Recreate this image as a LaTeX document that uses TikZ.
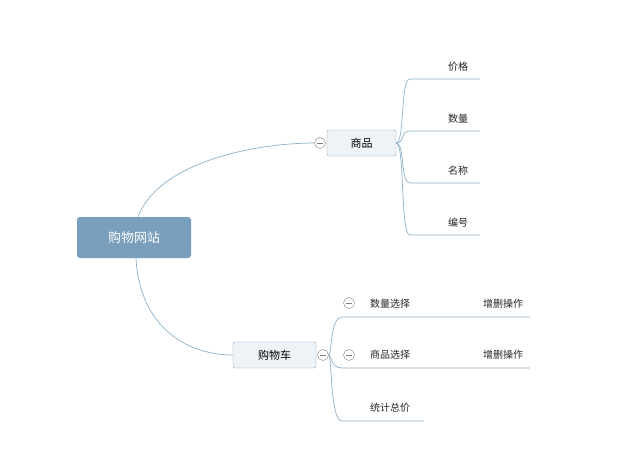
\documentclass[tikz,border=0pt]{standalone}
\usepackage{fontspec}
\newfontfamily\cjk{Noto Sans CJK SC}
\definecolor{ln}{HTML}{8FB0C8}
\definecolor{bd}{HTML}{8AA3B8}
\definecolor{rootc}{HTML}{7A9FBD}
\definecolor{boxc}{HTML}{EEF3F8}
\begin{document}
\begin{tikzpicture}[x=1pt,y=-1pt,
  conn/.style={draw=ln,line width=0.7pt},
  lbl/.style={font=\cjk\fontsize{10}{12}\selectfont,text=black!85},
  tbox/.style={draw=bd,fill=boxc,rounded corners=2pt,font=\cjk\fontsize{11}{13}\selectfont,inner sep=0pt},
  minus/.style={draw=gray,fill=white,circle,minimum size=11pt,inner sep=0pt,
    path picture={\draw[gray] ([xshift=-3pt]path picture bounding box.center)--([xshift=3pt]path picture bounding box.center);}}]
\useasboundingbox[fill=white] (0,0) rectangle (622,466);
\node[fill=rootc,rounded corners=3pt,minimum width=114pt,minimum height=41pt,text=white,font=\cjk\fontsize{13}{15}\selectfont] (root) at (134,237.5) {购物网站};
\node[tbox,minimum width=69pt,minimum height=26pt] (sp) at (361.5,143) {商品};
\node[tbox,minimum width=83pt,minimum height=26pt] (gw) at (274.5,355) {购物车};
\node[minus] (m1) at (320,143) {};
\node[minus] (m2) at (323,355) {};
\draw[conn] (root.north)+(4,0) coordinate (r1) (r1) .. controls (160,160) and (260,143) .. (m1.west);
\draw[conn] (root.south)+(2,0) coordinate (r2) (r2) .. controls (140,330) and (190,355) .. (gw.west);
\foreach \n/\y/\t in {a/79/价格,b/131/数量,c/183/名称,d/235/编号}{
  \coordinate (s\n) at (410,\y); \coordinate (e\n) at (480,\y);
  \draw[conn] (sp.east) .. controls (405,143) and (400,\y) .. (s\n) -- (e\n);
  \node[lbl] (t\n) at (458,\y-12) {\t};
}
\foreach \n/\y/\x in {a/317/530,b/368/530,c/421/424}{
  \coordinate (cs\n) at (342,\y); \coordinate (ce\n) at (\x,\y);
  \draw[conn] (m2.east) .. controls (332,355) and (330,\y) .. (cs\n) -- (ce\n);
}
\node[lbl] (ca) at (390,304) {数量选择};
\node[lbl] (cb) at (390,355) {商品选择};
\node[lbl] (cc) at (390,408) {统计总价};
\node[lbl] (za) at (503,304) {增删操作};
\node[lbl] (zb) at (503,355) {增删操作};
\node[minus] (ma) at (349,303) {};
\node[minus] (mb) at (349,355) {};
\end{tikzpicture}
\end{document}
